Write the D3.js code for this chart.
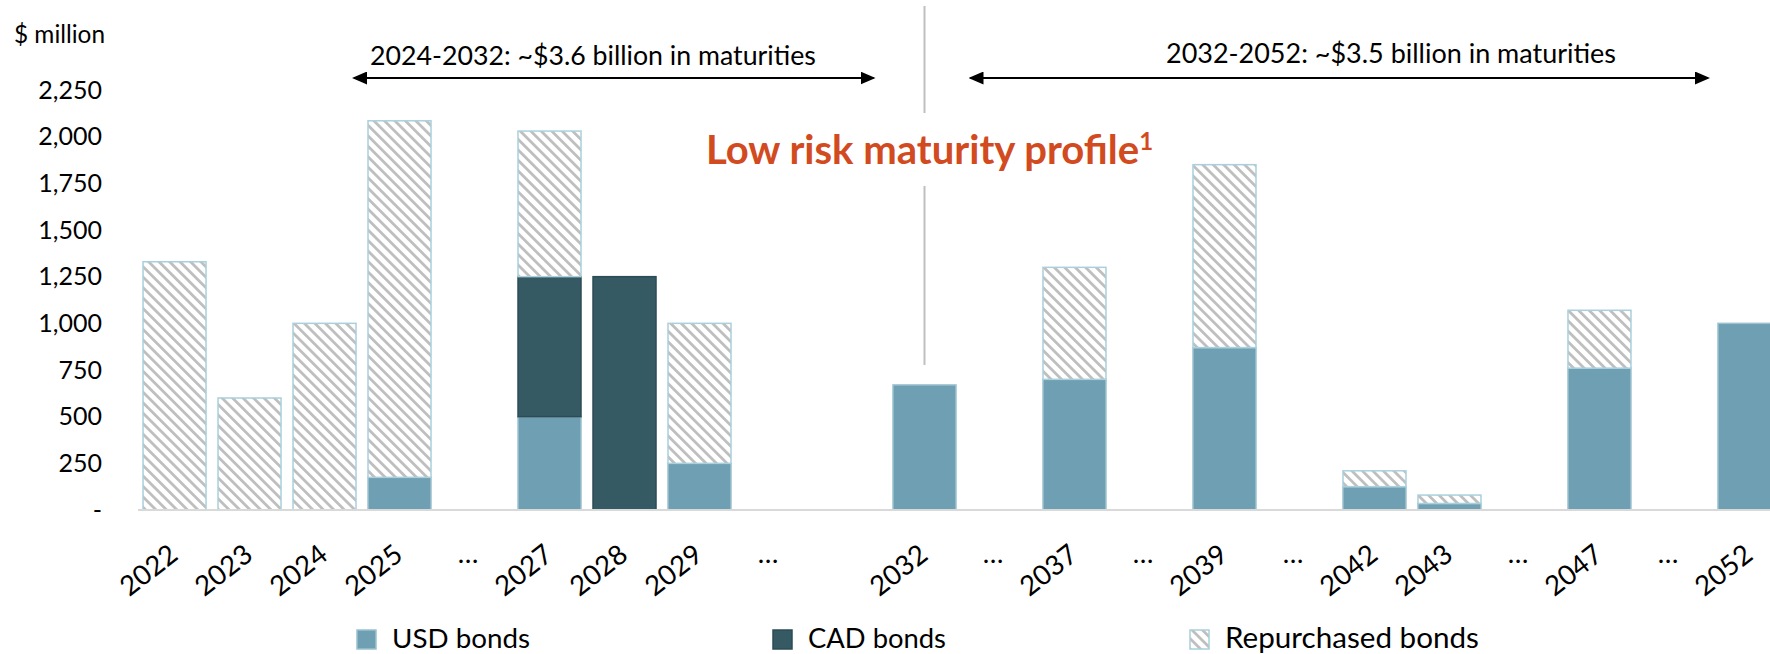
<!DOCTYPE html>
<html>
<head>
<meta charset="utf-8">
<script src="https://cdn.jsdelivr.net/npm/d3@7"></script>
<style>
  body { margin: 0; background: #fff; }
  svg { display: block; font-family: Lato, "Open Sans", sans-serif; }
</style>
</head>
<body>
<svg id="chart" width="1770" height="654"></svg>
<script>
// values, $ million
var categories = ["2022", "2023", "2024", "2025", "…", "2027", "2028", "2029", "…", "", "2032", "…",
                  "2037", "…", "2039", "…", "2042", "2043", "…", "2047", "…", "2052"];
var usdBonds         = [0, 0, 0, 175, 0, 500, 0, 250, 0, 0, 670, 0, 700, 0, 870, 0, 125, 35, 0, 760, 0, 1000];
var cadBonds         = [0, 0, 0, 0, 0, 750, 1250, 0, 0, 0, 0, 0, 0, 0, 0, 0, 0, 0, 0, 0, 0, 0];
var repurchasedBonds = [1330, 600, 1000, 1910, 0, 780, 0, 750, 0, 0, 0, 0, 600, 0, 980, 0, 85, 45, 0, 310, 0, 0];
var yTicks = [0, 250, 500, 750, 1000, 1250, 1500, 1750, 2000, 2250];
var seriesKeys = ["usd", "cad", "rep"];
var seriesNames = ["USD bonds", "CAD bonds", "Repurchased bonds"];
var periodNotes = ["2024-2032: ~$3.6 billion in maturities", "2032-2052: ~$3.5 billion in maturities"];

var colors = {usd: "#6e9fb2", cad: "#365a63", rep: "url(#hatch)"};
var strokes = {usd: "#9cc2cf", cad: "#2c4c55", rep: "#a9d0dc"};

var svg = d3.select("#chart");
var width = 1770;

// shrink/grow a text's font so it spans the width it has in the reference
function fit(sel, w) {
  var s = parseFloat(sel.attr("font-size"));
  var cur = sel.node().getComputedTextLength();
  sel.attr("font-size", (s * w / cur).toFixed(2));
}

var defs = svg.append("defs");
var pat = defs.append("pattern")
  .attr("id", "hatch")
  .attr("patternUnits", "userSpaceOnUse")
  .attr("width", 7.4).attr("height", 7.4)
  .attr("patternTransform", "rotate(-45)");
pat.append("rect").attr("width", 7.4).attr("height", 7.4).attr("fill", "#fff");
pat.append("rect").attr("width", 2.8).attr("height", 7.4).attr("fill", "#bfbfbf");

defs.append("marker")
  .attr("id", "arrow")
  .attr("markerUnits", "userSpaceOnUse")
  .attr("viewBox", "0 0 15 13")
  .attr("markerWidth", 15).attr("markerHeight", 13)
  .attr("refX", 13).attr("refY", 6.5)
  .attr("orient", "auto-start-reverse")
  .append("path").attr("d", "M0,0L15,6.5L0,13Z").attr("fill", "#000");

// scales
var idx = categories.map(function(c, i) { return i; });
var x = d3.scaleBand().domain(idx).range([138, 1786]).paddingInner(0.16).paddingOuter(0.067);
var y = d3.scaleLinear().domain([0, 2250]).range([510, 90]);

var rows = idx.map(function(i) {
  return {i: i, usd: usdBonds[i], cad: cadBonds[i], rep: repurchasedBonds[i]};
});
var stacked = d3.stack().keys(seriesKeys)(rows);

// bars
var layers = svg.append("g").selectAll("g")
  .data(stacked).enter().append("g")
  .attr("fill", function(d) { return colors[d.key]; })
  .attr("stroke", function(d) { return strokes[d.key]; })
  .attr("stroke-width", 1.5);

layers.selectAll("rect")
  .data(function(d) { return d.filter(function(p) { return p[1] > p[0]; }); })
  .enter().append("rect")
  .attr("x", function(d) { return x(d.data.i); })
  .attr("width", x.bandwidth())
  .attr("y", function(d) { return y(d[1]); })
  .attr("height", function(d) { return y(d[0]) - y(d[1]); });

// baseline
svg.append("line")
  .attr("x1", x.range()[0]).attr("x2", width)
  .attr("y1", y(0)).attr("y2", y(0))
  .attr("stroke", "#d9d9d9").attr("stroke-width", 2);

// y axis
var yAxis = svg.append("g")
  .attr("transform", "translate(102,0)")
  .call(d3.axisLeft(y).tickValues(yTicks).tickSize(0).tickPadding(0)
    .tickFormat(function(d) { return d === 0 ? "-" : d3.format(",")(d); }));
yAxis.select(".domain").remove();
yAxis.selectAll("text").attr("font-size", 25).attr("font-family", "Lato").attr("fill", "#000");

var unit = svg.append("text").attr("x", 14).attr("y", 43).attr("font-size", 23).text("$ million");
fit(unit, 91);

// x labels
var xl = svg.append("g").selectAll("text")
  .data(idx.filter(function(i) { return categories[i] !== ""; }))
  .enter().append("text")
  .attr("font-size", 27.5)
  .attr("text-anchor", "end")
  .text(function(i) { return categories[i]; })
  .attr("transform", function(i) {
    var cx = x(i) + x.bandwidth() / 2;
    if (categories[i] === "…") return "translate(" + (cx + 4) + ",563)";
    return "translate(" + (cx + 5) + ",558) rotate(-38)";
  });

// divider at 2032
var divX = x(10) + x.bandwidth() / 2;
svg.append("line").attr("x1", divX).attr("x2", divX).attr("y1", 6).attr("y2", 113)
  .attr("stroke", "#bfbfbf").attr("stroke-width", 2);
svg.append("line").attr("x1", divX).attr("x2", divX).attr("y1", 186).attr("y2", y(usdBonds[10]) - 20)
  .attr("stroke", "#bfbfbf").attr("stroke-width", 2);

// period notes and arrows
var n1 = svg.append("text").attr("x", 370).attr("y", 65).attr("font-size", 24).text(periodNotes[0]);
fit(n1, 446);
var n2 = svg.append("text").attr("x", 1166).attr("y", 63).attr("font-size", 24).text(periodNotes[1]);
fit(n2, 450);
[[354, divX - 51], [divX + 46, 1708]].forEach(function(a) {
  svg.append("line")
    .attr("x1", a[0]).attr("x2", a[1]).attr("y1", 78).attr("y2", 78)
    .attr("stroke", "#000").attr("stroke-width", 2)
    .attr("marker-start", "url(#arrow)").attr("marker-end", "url(#arrow)");
});

// title
var title = svg.append("text")
  .attr("x", divX + 5).attr("y", 164)
  .attr("text-anchor", "middle")
  .attr("font-size", 38).attr("font-weight", "bold")
  .attr("fill", "#d24a20");
title.append("tspan").text("Low risk maturity profile");
title.append("tspan").attr("font-size", 24).attr("dy", -14).text("1");
var tw = title.node().getComputedTextLength();
title.attr("font-size", (38 * 448 / tw).toFixed(2));

// legend
var legX = [357, 773, 1190];
var legW = [138, 138, 254];
var leg = svg.append("g").selectAll("g")
  .data(seriesKeys).enter().append("g")
  .attr("transform", function(d, i) { return "translate(" + legX[i] + ",630)"; });
leg.append("rect")
  .attr("width", 19).attr("height", 19)
  .attr("fill", function(d) { return colors[d]; })
  .attr("stroke", function(d) { return strokes[d]; })
  .attr("stroke-width", 1.5);
leg.append("text")
  .attr("x", 35).attr("y", 18)
  .attr("font-size", 27)
  .text(function(d, i) { return seriesNames[i]; })
  .each(function(d, i) { fit(d3.select(this), legW[i]); });
</script>
</body>
</html>
